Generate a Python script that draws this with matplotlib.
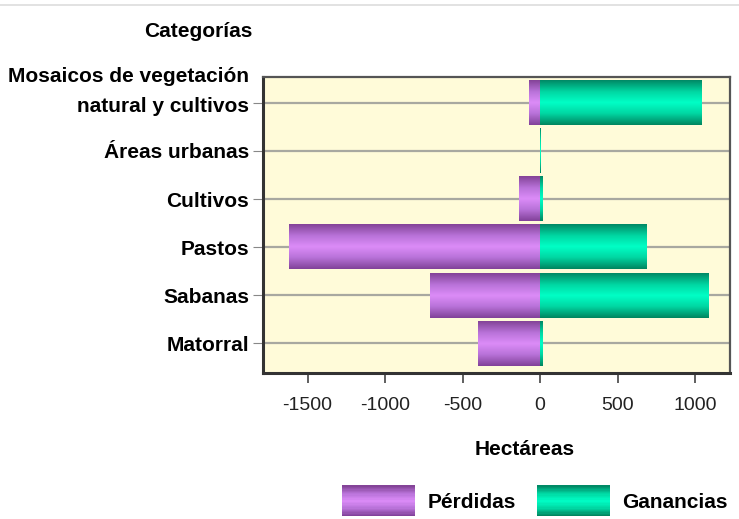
import numpy as np
import matplotlib
matplotlib.use("Agg")
import matplotlib.pyplot as plt
from matplotlib.colors import LinearSegmentedColormap
from matplotlib.legend_handler import HandlerBase
from matplotlib.patches import Rectangle
from matplotlib.lines import Line2D
import matplotlib.transforms as mtransforms

# Cambio de coberturas (hectáreas): pérdidas y ganancias por categoría
categorias = [
    "Mosaicos de vegetación\nnatural y cultivos",
    "Áreas urbanas",
    "Cultivos",
    "Pastos",
    "Sabanas",
    "Matorral",
]
perdidas = [-70, 0, -135, -1620, -710, -400]
ganancias = [1045, 3, 18, 685, 1090, 18]

xticks = [-1500, -1000, -500, 0, 500, 1000]

FONDO = "#fffbd9"
MARCO = "#333333"
FS = 15
plt.rcParams["font.family"] = ["Liberation Sans Narrow", "Liberation Sans", "DejaVu Sans"]

# Degradado tipo "cilindro": oscuro en los bordes, claro en el centro
cmap_perd = LinearSegmentedColormap.from_list(
    "perd", ["#844498", "#b872d8", "#dc8cf8", "#b872d8", "#82429a"])
cmap_gan = LinearSegmentedColormap.from_list(
    "gan", ["#008a66", "#00d6a2", "#00ffc6", "#00d6a2", "#008660"])
perfil = np.linspace(0, 1, 64).reshape(-1, 1)


def barra_degradado(ax, izq, der, y, alto, cmap):
    if der - izq == 0:
        return
    ax.imshow(perfil, extent=[izq, der, y - alto / 2, y + alto / 2],
              aspect="auto", cmap=cmap, origin="upper", zorder=3,
              interpolation="bilinear")


class HandlerDegradado(HandlerBase):
    def __init__(self, cmap):
        super().__init__()
        self.cmap = cmap

    def create_artists(self, legend, orig_handle, xdescent, ydescent,
                       width, height, fontsize, trans):
        n = 24
        franjas = []
        for i in range(n):
            r = Rectangle((-xdescent, -ydescent + height * i / n), width,
                          height / n + 0.3, facecolor=self.cmap(1 - i / (n - 1)),
                          edgecolor="none", transform=trans)
            franjas.append(r)
        return franjas


fig = plt.figure(figsize=(7.39, 5.19), dpi=100)
ax = fig.add_axes([0.356, 0.281, 0.632, 0.571])
ax.set_facecolor(FONDO)

n = len(categorias)
ypos = np.arange(n)[::-1]
alto = 0.93

for y, p, g in zip(ypos, perdidas, ganancias):
    barra_degradado(ax, p, 0, y, alto, cmap_perd)
    barra_degradado(ax, 0, g, y, alto, cmap_gan)

ax.set_xlim(-1787, 1226)
ax.set_ylim(-0.62, n - 1 + 0.54)

ax.set_yticks(ypos)
ax.set_yticklabels(categorias, fontsize=FS, fontweight="bold", linespacing=1.75)
ax.set_xticks(xticks)
ax.set_xticklabels([str(v) for v in xticks], fontsize=14, color="#222222")

ax.grid(axis="y", color="#a8a8a0", lw=1.6, zorder=1)
ax.tick_params(axis="y", length=7, color="#888888", pad=3)
ax.tick_params(axis="x", length=7, width=1.2, color="#444444", pad=10)
for lado in ["left", "bottom"]:
    ax.spines[lado].set_linewidth(2.2)
    ax.spines[lado].set_color(MARCO)
for lado in ["top", "right"]:
    ax.spines[lado].set_linewidth(1.6)
    ax.spines[lado].set_color("#555555")

# La etiqueta de dos líneas se alinea con su última línea en la marca
lbl = ax.get_yticklabels()[0]
lbl.set_transform(lbl.get_transform() +
                  mtransforms.ScaledTranslation(0, 0.19, fig.dpi_scale_trans))

ax.set_xlabel("Hectáreas", fontsize=FS, fontweight="bold")
ax.xaxis.set_label_coords(0.561, -0.225)
fig.text(0.342, 0.94, "Categorías", fontsize=FS, fontweight="bold",
         ha="right", va="center")

# Línea fina superior
fig.add_artist(Line2D([0, 1], [0.99, 0.99], color="#dddddd", lw=1.2))

h_perd = Rectangle((0, 0), 1, 1)
h_gan = Rectangle((0, 0), 1, 1)
fig.legend([h_perd, h_gan], ["Pérdidas", "Ganancias"],
           handler_map={h_perd: HandlerDegradado(cmap_perd),
                        h_gan: HandlerDegradado(cmap_gan)},
           loc="center", bbox_to_anchor=(0.724, 0.035), ncol=2, frameon=False,
           prop={"weight": "bold", "size": FS},
           handlelength=3.5, handleheight=1.9, handletextpad=0.6,
           columnspacing=1.0)

fig.savefig("out.png", dpi=100, facecolor="white")
